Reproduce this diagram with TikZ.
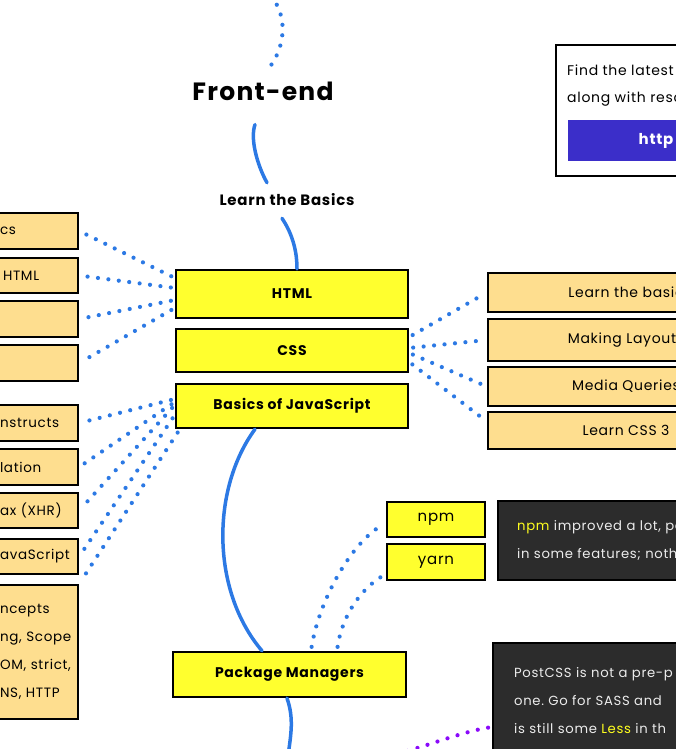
\documentclass[tikz,border=0pt]{standalone}
\usepackage{fontspec}
\setmainfont{Poppins}[LetterSpace=5]
\usetikzlibrary{positioning}
\frenchspacing

\definecolor{roadblue}{RGB}{44,121,228}
\definecolor{topicyellow}{RGB}{255,255,46}
\definecolor{subtan}{RGB}{254,222,143}
\definecolor{notegray}{RGB}{44,44,44}
\definecolor{notetext}{RGB}{236,236,236}
\definecolor{hilite}{RGB}{255,255,30}
\definecolor{linkblue}{RGB}{59,46,201}
\definecolor{altpurple}{RGB}{138,10,250}

\tikzset{
  box/.style={draw=black, line width=2.4pt, inner sep=0pt},
  topic/.style={box, fill=topicyellow, minimum width=232pt, font=\fontsize{14}{16}\selectfont\bfseries},
  leftsub/.style={box, fill=subtan, text width=68pt, align=left, inner xsep=10pt, font=\fontsize{13.5}{28}\selectfont},
  rightsub/.style={box, fill=subtan, minimum width=276pt, font=\fontsize{14}{16}\selectfont},
  pkgitem/.style={box, fill=topicyellow, minimum width=98pt, font=\fontsize{15}{16}\selectfont},
  note/.style={box, fill=notegray, text=notetext, text width=260pt, align=left, font=\fontsize{13.2}{28}\selectfont},
  spine/.style={draw=roadblue, line width=3.5pt, line cap=round},
  dotlink/.style={draw=roadblue, line width=4.2pt, line cap=round, dash pattern=on 0pt off 10.5pt, shorten <=4pt, shorten >=4pt},
  altlink/.style={dotlink, draw=altpurple},
}

\begin{document}
\begin{tikzpicture}[x=1pt, y=-1pt]
    \useasboundingbox (0,0) rectangle (675,749);

    \coordinate (prev) at (271,-4);
    \node[inner sep=0pt, font=\fontsize{25}{25}\selectfont\bfseries] (frontend) at (263,91) {Front-end};
    \node[inner sep=0pt, font=\fontsize{15}{15}\selectfont\bfseries] (basics) at (287,200) {Learn the Basics};

    \node[topic, minimum height=48pt] (html) at (292,294) {HTML};
    \node[topic, minimum height=43pt] (css) at (292,350.5) {CSS};
    \node[topic, minimum height=44pt] (js) at (292,406) {Basics of JavaScript};
    \node[topic, minimum width=233pt, minimum height=45pt] (pkg) at (289.5,674.5) {Package Managers};
    \coordinate (next) at (288,756);

    % html and js topics on the left
    \node[leftsub, minimum height=36pt] (htmlA) at (34,231) {cs};
    \node[leftsub, minimum height=35pt] (htmlB) at (34,275.5) {\hspace{3pt}HTML};
    \node[leftsub, minimum height=36pt] (htmlC) at (34,319) {};
    \node[leftsub, minimum height=36pt] (htmlD) at (34,363) {};
    \node[leftsub, minimum height=36pt] (jsA) at (34,423) {nstructs};
    \node[leftsub, minimum height=36pt] (jsB) at (34,467) {lation};
    \node[leftsub, minimum height=35pt] (jsC) at (34,510.5) {ax~(XHR)};
    \node[leftsub, minimum height=35pt] (jsD) at (34,556.5) {avaScript};
    \node[leftsub, minimum height=134pt] (jsE) at (34,652) {ncepts\\ng,~Scope\\OM,~strict,\\NS,~HTTP};

    % css topics on the right
    \node[rightsub, minimum height=39pt] (cssA) at (626,292.5) {Learn the basic};
    \node[rightsub, minimum height=42pt] (cssB) at (626,340) {Making Layouts};
    \node[rightsub, minimum height=39pt] (cssC) at (626,386.5) {Media Queries};
    \node[rightsub, minimum height=37pt] (cssD) at (626,430.5) {Learn CSS 3};

    \node[pkgitem, minimum height=35pt] (npm) at (436,519.5) {npm};
    \node[pkgitem, minimum height=36pt] (yarn) at (436,562) {yarn};

    \node[note, anchor=west, inner xsep=19pt, minimum height=79pt] (notepkg) at (497,540.5)
        {\textcolor{hilite}{npm} improved a lot, po\\in some features; noth};
    \node[note, anchor=north west, inner xsep=21pt, inner ysep=24pt, text depth=80pt] (notecss) at (492,642)
        {PostCSS is not a pre-p\\one. Go for SASS and\\is still some \textcolor{hilite}{Less} in th};
    \coordinate (alt) at (400,753);

    \node[box, fill=white, anchor=north west, minimum width=260pt, minimum height=131pt] (info) at (555,44) {};
    \node[inner sep=0pt, anchor=north west, align=left, font=\fontsize{14}{27}\selectfont] (infotext) at (567,65)
        {Find the latest\\along with reso};
    \node[fill=linkblue, text=white, minimum width=176pt, minimum height=41pt, inner sep=0pt,
          font=\fontsize{15}{15}\selectfont\bfseries] (infolink) at (656,140.5) {http};

    % spine
    \draw[dotlink, shorten <=0pt] (prev) .. controls +(18,22) and +(16,-22) .. ([xshift=5pt, yshift=12pt]frontend.north);
    \draw[spine] ([xshift=-8pt, yshift=-24pt]frontend.south) .. controls +(-5,14) and +(-10,-18) .. ([xshift=-20pt, yshift=11pt]basics.north);
    \draw[spine] ([xshift=-5pt, yshift=-12pt]basics.south) .. controls +(8,12) and +(0,-22) .. ([xshift=5pt]html.north);
    \draw[spine] ([xshift=-37pt]js.south) .. controls +(-44,60) and +(-51,-60) .. ([xshift=-27.5pt]pkg.north);
    \draw[spine] ([xshift=-2.5pt]pkg.south) .. controls +(7,20) and +(3,-22) .. (next);

    \draw[dotlink] ([yshift=16pt]html.west) -- (htmlA.east);
    \draw[dotlink] ([yshift=6pt]html.west) -- (htmlB.east);
    \draw[dotlink] ([yshift=-6pt]html.west) -- (htmlC.east);
    \draw[dotlink] ([yshift=-14pt]html.west) -- (htmlD.east);

    \draw[dotlink] ([yshift=7pt]js.west) -- (jsA.east);
    \draw[dotlink] ([yshift=4pt]js.west) -- (jsB.east);
    \draw[dotlink] ([yshift=1pt]js.west) -- (jsC.east);
    \draw[dotlink] ([yshift=-9pt]js.west) -- (jsD.east);
    \draw[dotlink] ([xshift=5pt]js.south west) -- (jsE.north east);

    \draw[dotlink] ([yshift=13.5pt]css.east) -- (cssA.west);
    \draw[dotlink] ([yshift=2.5pt]css.east) -- (cssB.west);
    \draw[dotlink] ([yshift=-2.5pt]css.east) -- (cssC.west);
    \draw[dotlink] ([yshift=-11.5pt]css.east) -- ([yshift=9pt]cssD.west);

    \draw[dotlink] ([xshift=21.5pt]pkg.north) .. controls +(8,-50) and +(-35,20) .. ([yshift=-3.5pt]npm.west);
    \draw[dotlink] ([xshift=47.5pt]pkg.north) .. controls +(5,-35) and +(-25,15) .. ([yshift=-12pt]yarn.west);

    \draw[altlink, shorten >=0pt] ([yshift=-85pt]notecss.north west) .. controls +(-30,5) and +(30,-8) .. (alt);
\end{tikzpicture}
\end{document}
